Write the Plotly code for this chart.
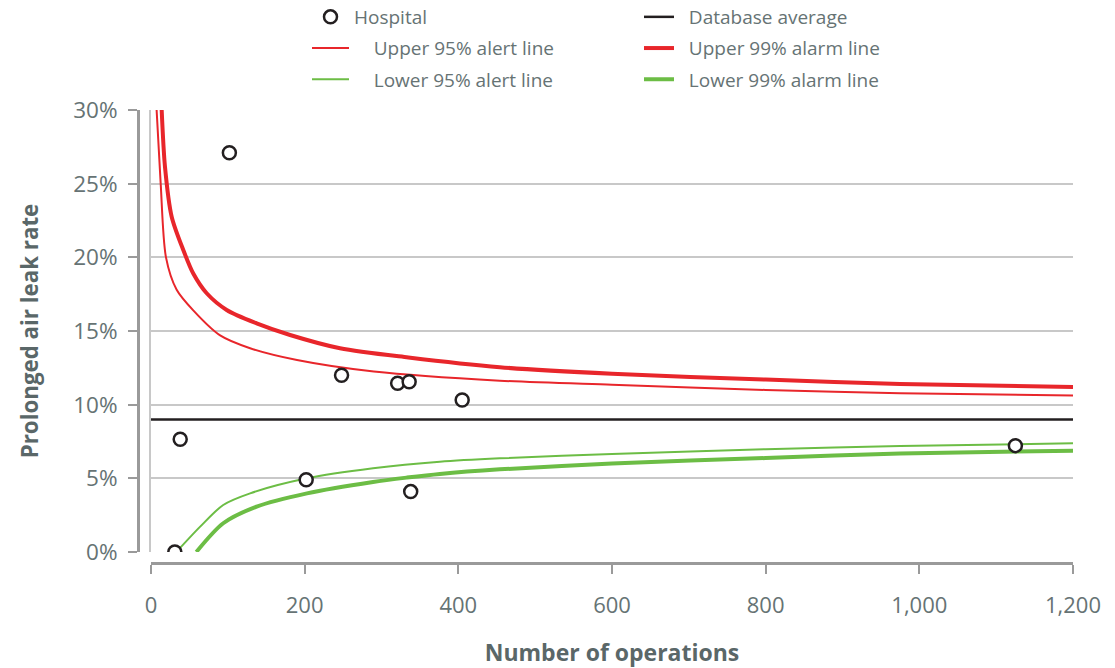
import plotly.graph_objects as go

# ---------------- data ----------------
hosp_n = [31, 38, 102, 202, 248, 321, 336, 338, 405, 1125]
hosp_rate = [0.0, 7.65, 27.1, 4.9, 12.0, 11.45, 11.56, 4.1, 10.32, 7.22]

avg_n = [0, 1200]
avg_rate = [9.0, 9.0]

u95_n = [7.3, 12.6, 19.5, 33.4, 55, 90, 129, 190, 290, 454, 600, 800, 975, 1200]
u95_rate = [30.0, 25.0, 20.0, 17.8, 16.4, 14.7, 13.83, 13.03, 12.25, 11.63, 11.35, 11.0, 10.77, 10.62]

u99_n = [13.9, 18.2, 26.9, 42, 55, 72.5, 98.5, 137.5, 181, 246, 335, 454, 600, 800, 975, 1200]
u99_rate = [30.0, 26.15, 22.76, 20.5, 18.9, 17.56, 16.43, 15.52, 14.73, 13.83, 13.2, 12.54, 12.1, 11.7, 11.4, 11.2]

l95_n = [33, 64, 94, 129, 203, 289, 376, 454, 600, 800, 975, 1200]
l95_rate = [0.0, 1.72, 3.19, 3.98, 5.0, 5.68, 6.13, 6.36, 6.65, 6.98, 7.19, 7.38]

l99_n = [59, 94, 137.5, 203, 289, 333, 376, 454, 600, 800, 975, 1200]
l99_rate = [0.0, 1.95, 3.08, 3.98, 4.75, 5.05, 5.3, 5.61, 6.0, 6.38, 6.68, 6.88]

x_ticks = [0, 200, 400, 600, 800, 1000, 1200]
x_ticktext = ["0", "200", "400", "600", "800", "1,000", "1,200"]
y_ticks = [0, 5, 10, 15, 20, 25, 30]
y_ticktext = ["0%", "5%", "10%", "15%", "20%", "25%", "30%"]

# ---------------- styling ----------------
RED = "#e8262b"
GREEN = "#6cbd45"
BLACK = "#231f20"
GRID = "#c8c8c8"
AXIS = "#9a9a9a"
TXT = "#667374"
TITLE = "#5a6768"
FONT = "Open Sans"
NB = "\u00a0"

W, H = 1115, 668
L, R, T, B = 138, 1115 - 1073, 110, 668 - 563
PW, PH = W - L - R, H - T - B


def px_x(p):
    return (p - L) / PW


def px_y(p):
    return (H - B - p) / PH


fig = go.Figure()

line_traces = [
    (u95_n, u95_rate, NB * 4 + "Upper 95% alert line", RED, 2, "legend", 2),
    (l95_n, l95_rate, NB * 4 + "Lower 95% alert line", GREEN, 2, "legend", 3),
    (u99_n, u99_rate, NB * 2 + "Upper 99% alarm line", RED, 4, "legend2", 2),
    (l99_n, l99_rate, NB * 2 + "Lower 99% alarm line", GREEN, 4, "legend2", 3),
]
for xs, ys, name, col, w, leg, rank in line_traces:
    fig.add_trace(go.Scatter(
        x=xs, y=ys, name=name, mode="lines",
        line=dict(color=col, width=w, shape="spline", smoothing=0.8),
        legend=leg, legendgroup=name, legendrank=rank, hoverinfo="skip",
    ))

fig.add_trace(go.Scatter(
    x=avg_n, y=avg_rate, name=NB * 2 + "Database average", mode="lines",
    line=dict(color=BLACK, width=2.5),
    legend="legend2", legendgroup="avg", legendrank=1,
))

fig.add_trace(go.Scatter(
    x=hosp_n, y=hosp_rate, name="Hospital", mode="markers",
    marker=dict(symbol="circle", size=13, color="white",
                line=dict(color=BLACK, width=2.5)),
    legend="legend", legendgroup="hosp", legendrank=1,
))

# dummy traces so that the offset axes get drawn
fig.add_trace(go.Scatter(x=[None], y=[None], xaxis="x2", yaxis="y",
                         showlegend=False, hoverinfo="skip"))
fig.add_trace(go.Scatter(x=[None], y=[None], xaxis="x", yaxis="y2",
                         showlegend=False, hoverinfo="skip"))

x_dom = [px_x(151), 1.0]
y_dom = [px_y(552), 1.0]

fig.update_layout(
    width=W, height=H,
    margin=dict(l=L, r=R, t=T, b=B, autoexpand=False),
    paper_bgcolor="white", plot_bgcolor="white",
    font=dict(family=FONT, color=TXT),
    showlegend=True,
    xaxis=dict(domain=x_dom, range=[0, 1200], showgrid=False, zeroline=False,
               showline=False, showticklabels=False, ticks="", anchor="y"),
    yaxis=dict(domain=y_dom, range=[0, 30], dtick=5, showgrid=True,
               gridcolor=GRID, gridwidth=2, zeroline=False,
               showline=True, linecolor=GRID, linewidth=2,
               showticklabels=False, ticks="", anchor="x"),
    xaxis2=dict(overlaying="x", anchor="free", position=0, side="bottom",
                range=[0, 1200], showgrid=False, zeroline=False,
                showline=True, linecolor=AXIS, linewidth=3,
                ticks="outside", ticklen=9, tickwidth=2, tickcolor=AXIS,
                tickmode="array", tickvals=x_ticks, ticktext=x_ticktext,
                tickfont=dict(family=FONT, size=22, color=TXT),
                ticklabelstandoff=13,
                title=dict(text="<b>Number of operations</b>",
                           font=dict(family=FONT, size=23, color=TITLE),
                           standoff=27)),
    yaxis2=dict(overlaying="y", anchor="free", position=0, side="left",
                range=[0, 30], showgrid=False, zeroline=False,
                showline=True, linecolor=AXIS, linewidth=3,
                ticks="outside", ticklen=9, tickwidth=2, tickcolor=AXIS,
                tickmode="array", tickvals=y_ticks, ticktext=y_ticktext,
                tickfont=dict(family=FONT, size=22.5, color=TXT),
                ticklabelstandoff=6,
                title=dict(text="<b>Prolonged air leak rate</b>",
                           font=dict(family=FONT, size=22.3, color=TITLE),
                           standoff=27)),
    legend=dict(x=px_x(307), y=px_y(-2), xanchor="left", yanchor="top",
                orientation="v", traceorder="grouped", tracegroupgap=3.5,
                itemwidth=37, bgcolor="rgba(0,0,0,0)",
                font=dict(family=FONT, size=19, color=TXT)),
    legend2=dict(x=px_x(639), y=px_y(-2), xanchor="left", yanchor="top",
                 orientation="v", traceorder="grouped", tracegroupgap=3.5,
                 itemwidth=30, bgcolor="rgba(0,0,0,0)",
                 font=dict(family=FONT, size=19, color=TXT)),
)

fig.write_html("out.html",
               config={"displayModeBar": False},
               post_script="document.body.style.margin='0';")
